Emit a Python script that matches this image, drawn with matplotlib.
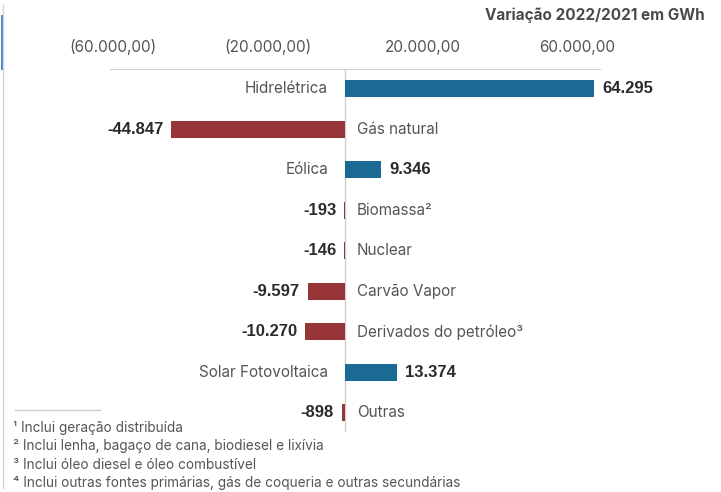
import matplotlib.pyplot as plt
from matplotlib.ticker import FuncFormatter
from matplotlib.lines import Line2D
from matplotlib.patches import Rectangle

plt.rcParams['font.family'] = ['Inter', 'DejaVu Sans']

fontes = ['Hidrelétrica', 'Gás natural', 'Eólica', 'Biomassa²', 'Nuclear',
          'Carvão Vapor', 'Derivados do petróleo³', 'Solar Fotovoltaica', 'Outras']
variacao = [64295, -44847, 9346, -193, -146, -9597, -10270, 13374, -898]
rotulos = ['64.295', '-44.847', '9.346', '-193', '-146', '-9.597', '-10.270', '13.374', '-898']
ticks = [-60000, -20000, 20000, 60000]
notas = ['¹ Inclui geração distribuída',
         '² Inclui lenha, bagaço de cana, biodiesel e lixívia',
         '³ Inclui óleo diesel e óleo combustível',
         '⁴ Inclui outras fontes primárias, gás de coqueria e outras secundárias']

AZUL = '#1b6a94'
VERMELHO = '#983538'
W, H = 721, 492
NUM = ['Liberation Sans', 'DejaVu Sans']

fig = plt.figure(figsize=(W / 100, H / 100), dpi=100)
ax = fig.add_axes([110 / W, 1 - 432 / H, 490 / W, (432 - 69) / H])

cores = [AZUL if v > 0 else VERMELHO for v in variacao]
pos = list(range(len(fontes)))
ax.barh(pos, variacao, height=0.42, color=cores)
ax.set_ylim(8.47, -0.49)
ax.set_xlim(-60700, 65870)

# px -> dados no eixo x
upx = (65870 + 60700) / 490
for i, (v, nome, rot) in enumerate(zip(variacao, fontes, rotulos)):
    if v > 0:
        ax.text(-17 * upx, i, nome, ha='right', va='center', fontsize=11, color='#555555')
        ax.text(v + 8 * upx, i, rot, ha='left', va='center', fontsize=12,
                fontweight='bold', color='#2b2b2b', family=NUM)
    else:
        ax.text(12 * upx, i, nome, ha='left', va='center', fontsize=11, color='#555555')
        ax.text(v - 8 * upx, i, rot, ha='right', va='center', fontsize=12,
                fontweight='bold', color='#2b2b2b', family=NUM)

ax.axvline(0, color='#cfcfcf', lw=1, zorder=0)

ax.xaxis.tick_top()
ax.set_xticks(ticks)
ax.xaxis.set_major_formatter(FuncFormatter(
    lambda x, _: (f'({abs(x):,.2f})' if x < 0 else f'{x:,.2f}')
    .replace(',', 'X').replace('.', ',').replace('X', '.')))
ax.tick_params(axis='x', length=0, pad=10, labelsize=11, labelcolor='#555555')
ax.set_yticks([])
for s in ['left', 'right', 'bottom']:
    ax.spines[s].set_visible(False)
ax.spines['top'].set_color('#cfcfcf')

fig.text(705 / W, 1 - 15 / H, 'Variação 2022/2021 em GWh', ha='right', va='center',
         fontsize=11, fontweight='bold', color='#4a4a4a')

# notas de rodapé
fig.add_artist(Line2D([15 / W, 100 / W], [1 - 410 / H] * 2, color='#cccccc', lw=1))
for k, nota in enumerate(notas):
    fig.text(13 / W, 1 - (428 + 18.3 * k) / H, nota, ha='left', va='center',
             fontsize=9.8, color='#555555')

# barra lateral
fig.add_artist(Line2D([2.5 / W] * 2, [1 - 5 / H, 1 - 488 / H], color='#d0d5dc', lw=1))
fig.add_artist(Rectangle((1 / W, 1 - 70 / H), 3 / W, 55 / H, color='#4a86c8', lw=0))

fig.savefig('out.png', dpi=100)
